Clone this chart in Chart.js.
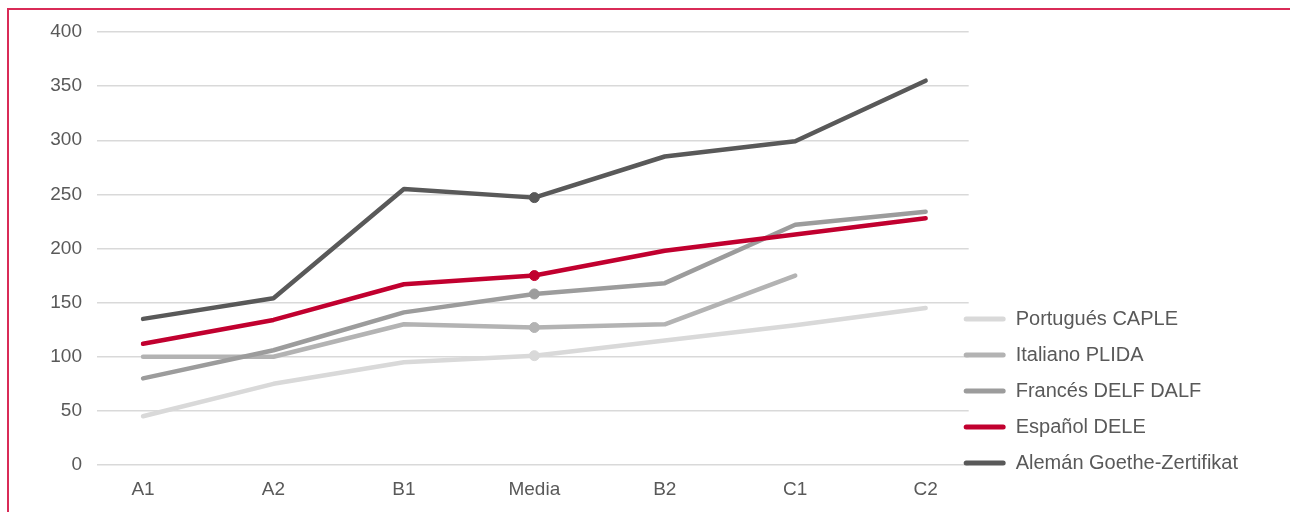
<!DOCTYPE html>
<html>
<head>
<meta charset="utf-8">
<script src="https://cdn.jsdelivr.net/npm/chart.js@4.4.1/dist/chart.umd.min.js"></script>
<style>
  html, body { margin: 0; padding: 0; background: #fff; }
  .frame {
    position: absolute; left: 7px; top: 8px;
    width: 1281px; height: 502px;
    border-top: 2px solid #d92b57; border-left: 2px solid #d92b57;
  }
  canvas { display: block; }
</style>
</head>
<body>
<div class="frame"><canvas id="chart" width="1281" height="502"></canvas></div>
<script>
'use strict';

// ── Données ──────────────────────────────────────────────────
const categories = ['A1', 'A2', 'B1', 'Media', 'B2', 'C1', 'C2'];
const yTicks     = [0, 50, 100, 150, 200, 250, 300, 350, 400];

const aleman    = [135, 154, 255, 247, 285, 299, 355];
const espanol   = [112, 134, 167, 175, 198, 213, 228];
const frances   = [80, 106, 141, 158, 168, 222, 234];
const italiano  = [100, 100, 130, 127, 130, 175, null];
const portugues = [45, 75, 95, 101, 115, 129, 145];

// index 0 dessiné au-dessus, légende inversée
const series = [
  { label: 'Alemán Goethe-Zertifikat', data: aleman,    color: '#595959' },
  { label: 'Español DELE',             data: espanol,   color: '#c1002f' },
  { label: 'Francés DELF DALF',        data: frances,   color: '#9c9c9c' },
  { label: 'Italiano PLIDA',           data: italiano,  color: '#b3b3b3' },
  { label: 'Portugués CAPLE',          data: portugues, color: '#d9d9d9' }
];

const TEXT = '#595959';
const FONT = '"Liberation Sans", Arial, sans-serif';

const datasets = series.map(s => ({
  label: s.label,
  data: s.data.map((v, i) => ({ x: i, y: v })),
  borderColor: s.color,
  backgroundColor: s.color,
  borderWidth: 4.5,
  borderCapStyle: 'round',
  borderJoinStyle: 'round',
  pointRadius: categories.map(c => c === 'Media' ? 5 : 0),
  pointBorderWidth: 1,
  pointHoverRadius: 0,
  spanGaps: false,
  tension: 0
}));

// la légende démarre un peu avant la fin de la zone du graphe
const shiftLegend = {
  id: 'shiftLegend',
  afterLayout(chart) {
    const lg = chart.legend;
    lg.left -= 21; lg.right -= 21;
    lg.top -= 12;  lg.bottom -= 12;
  }
};

new Chart(document.getElementById('chart'), {
  type: 'line',
  data: { datasets },
  plugins: [shiftLegend],
  options: {
    responsive: false,
    animation: false,
    devicePixelRatio: 1,
    layout: { padding: { left: 0, top: 22, right: 21, bottom: 11 } },
    scales: {
      x: {
        type: 'linear',
        min: -0.353,
        max: 6.33,
        grid: { display: false },
        border: { display: false },
        afterBuildTicks: scale => {
          scale.ticks = categories.map((c, i) => ({ value: i }));
        },
        ticks: {
          autoSkip: false,
          maxRotation: 0,
          padding: 5,
          color: TEXT,
          font: { family: FONT, size: 19 },
          callback: v => categories[v] ?? ''
        },
        afterFit: scale => { scale.height = 36; }
      },
      y: {
        min: yTicks[0],
        max: yTicks[yTicks.length - 1],
        grid: { color: '#d9d9d9', lineWidth: 1.5, drawTicks: false },
        border: { display: false },
        ticks: {
          stepSize: 50,
          padding: 15,
          color: TEXT,
          font: { family: FONT, size: 19 }
        },
        afterFit: scale => {
          scale.width = 88;
          scale.paddingTop = 0;
          scale.paddingBottom = 0;
        }
      }
    },
    plugins: {
      tooltip: { enabled: false },
      legend: {
        position: 'right',
        align: 'end',
        reverse: true,
        labels: {
          boxWidth: 42,
          boxHeight: 5,
          padding: 16,
          color: TEXT,
          font: { family: FONT, size: 20 },
          generateLabels: chart =>
            Chart.defaults.plugins.legend.labels.generateLabels(chart)
              .map(l => ({ ...l, lineWidth: 0, borderRadius: 2.5 }))
        }
      }
    }
  }
});
</script>
</body>
</html>
